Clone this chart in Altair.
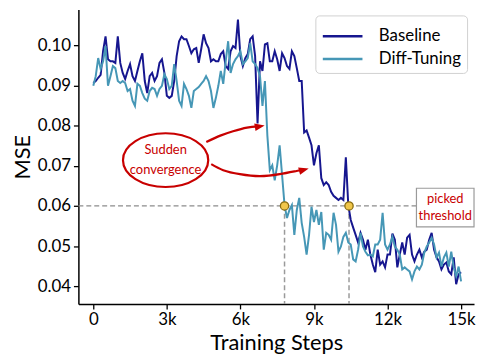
import altair as alt
import pandas as pd

# ---------------- data ----------------
steps = list(range(0, 15001, 100))

baseline = [
    0.0906, 0.0911, 0.0919, 0.0926, 0.0985, 0.1022, 0.0965, 0.0960, 0.0960, 0.0956,
    0.1022, 0.0956, 0.0931, 0.0916, 0.0936, 0.0953, 0.0923, 0.0911, 0.0936, 0.0960,
    0.0980, 0.0911, 0.0881, 0.0923, 0.0931, 0.0911, 0.0923, 0.0956, 0.0965, 0.0931,
    0.0874, 0.0869, 0.0874, 0.0911, 0.0973, 0.1010, 0.1022, 0.1015, 0.1015, 0.0998,
    0.0980, 0.0990, 0.0993, 0.0956, 0.0990, 0.1027, 0.1005, 0.0993, 0.0960, 0.0965,
    0.0960, 0.0960, 0.0978, 0.0985, 0.0948, 0.0941, 0.0985, 0.0998, 0.0993, 0.1064,
    0.0973, 0.0948, 0.0968, 0.0978, 0.1015, 0.1022, 0.0973, 0.0805, 0.0960, 0.0936,
    0.1002, 0.1005, 0.0960, 0.0960, 0.0985, 0.0965, 0.0936, 0.0980, 0.0968, 0.0948,
    0.0941, 0.0985, 0.0973, 0.0943, 0.0911, 0.0911, 0.0783, 0.0788, 0.0770, 0.0751,
    0.0701, 0.0731, 0.0751, 0.0669, 0.0652, 0.0659, 0.0652, 0.0635, 0.0625, 0.0620,
    0.0615, 0.0620, 0.0615, 0.0721, 0.0602, 0.0565, 0.0546, 0.0528, 0.0509, 0.0533,
    0.0516, 0.0491, 0.0516, 0.0479, 0.0454, 0.0435, 0.0491, 0.0454, 0.0462, 0.0447,
    0.0479, 0.0479, 0.0531, 0.0516, 0.0447, 0.0479, 0.0509, 0.0479, 0.0521, 0.0528,
    0.0479, 0.0462, 0.0479, 0.0491, 0.0472, 0.0486, 0.0491, 0.0516, 0.0533, 0.0491,
    0.0472, 0.0462, 0.0442, 0.0454, 0.0459, 0.0437, 0.0430, 0.0472, 0.0405, 0.0430,
    0.0435,
]

diff_tuning = [
    0.0899, 0.0923, 0.0968, 0.0941, 0.0960, 0.0998, 0.0899, 0.0923, 0.0948, 0.0943,
    0.0911, 0.0906, 0.0911, 0.0906, 0.0886, 0.0891, 0.0862, 0.0849, 0.0904, 0.0899,
    0.0881, 0.0867, 0.0862, 0.0886, 0.0894, 0.0891, 0.0874, 0.0891, 0.0899, 0.0928,
    0.0916, 0.0891, 0.0899, 0.0953, 0.0911, 0.0862, 0.0849, 0.0904, 0.0891, 0.0874,
    0.0844, 0.0886, 0.0891, 0.0896, 0.0904, 0.0911, 0.0923, 0.0911, 0.0886, 0.0844,
    0.0869, 0.0899, 0.0936, 0.0904, 0.0960, 0.1010, 0.0931, 0.0953, 0.0965, 0.0973,
    0.0985, 0.0953, 0.0960, 0.0968, 0.1005, 0.0960, 0.0953, 0.0943, 0.0923, 0.0849,
    0.0911, 0.0775, 0.0689, 0.0701, 0.0664, 0.0701, 0.0751, 0.0677, 0.0602, 0.0570,
    0.0590, 0.0602, 0.0528, 0.0590, 0.0620, 0.0558, 0.0523, 0.0479, 0.0528, 0.0598,
    0.0560, 0.0590, 0.0553, 0.0585, 0.0491, 0.0533, 0.0528, 0.0516, 0.0583, 0.0553,
    0.0486, 0.0499, 0.0523, 0.0533, 0.0509, 0.0504, 0.0467, 0.0462, 0.0491, 0.0533,
    0.0499, 0.0486, 0.0477, 0.0479, 0.0474, 0.0504, 0.0504, 0.0516, 0.0583, 0.0504,
    0.0491, 0.0504, 0.0523, 0.0499, 0.0491, 0.0479, 0.0442, 0.0447, 0.0442, 0.0437,
    0.0417, 0.0437, 0.0449, 0.0442, 0.0454, 0.0484, 0.0499, 0.0509, 0.0521, 0.0504,
    0.0472, 0.0484, 0.0449, 0.0472, 0.0484, 0.0449, 0.0486, 0.0447, 0.0425, 0.0449,
    0.0412,
]

series_names = ["Baseline", "Diff-Tuning"]
series_colors = ["#16168f", "#4697b6"]

x_ticks = [0, 3000, 6000, 9000, 12000, 15000]
y_ticks = [0.04, 0.05, 0.06, 0.07, 0.08, 0.09, 0.10]
x_domain = [-607, 15528]
y_domain = [0.0356, 0.1089]

threshold = 0.06
threshold_end = 13180
picked_steps = [7800, 10430]

# annotation anchors (data coordinates)
ellipse_at = [2950, 0.0714]
ellipse_lines = ["Sudden", "convergence"]
ellipse_line_y = [0.0738, 0.0689]

arrow_upper_x = [4610, 5180, 5700, 6270, 6720]
arrow_upper_y = [0.0759, 0.0775, 0.0786, 0.0795, 0.0798]
arrow_lower_x = [4810, 5300, 5980, 6790, 7600, 8290, 8560]
arrow_lower_y = [0.0704, 0.0689, 0.0679, 0.0674, 0.0679, 0.0687, 0.0690]
arrow_heads_x = [6790, 8590]
arrow_heads_y = [0.0798, 0.0690]
arrow_heads_angle = [350, 345]

box_x = [13180, 15528]
box_y = [0.0548, 0.0644]
box_lines = ["picked", "threshold"]
box_text_x = 14355
box_line_y = [0.0617, 0.0575]

RED = "#c80000"
FONT = "Lato"

# ---------------- chart ----------------
xs = alt.Scale(domain=x_domain, nice=False, zero=False)
ys = alt.Scale(domain=y_domain, nice=False, zero=False)
x_axis = alt.Axis(values=x_ticks, labelExpr="datum.value == 0 ? '0' : (datum.value / 1000) + 'k'",
                  grid=False, title="Training Steps")
y_axis = alt.Axis(values=y_ticks, format=".2f", grid=False, title="MSE")


def X(f):
    return alt.X(f, type="quantitative", scale=xs, axis=x_axis)


def Y(f):
    return alt.Y(f, type="quantitative", scale=ys, axis=y_axis)


rows = []
for name, vals in zip(series_names, [baseline, diff_tuning]):
    for s, v in zip(steps, vals):
        rows.append({"step": s, "mse": v, "series": name})
df = pd.DataFrame(rows)

lines = alt.Chart(df).mark_line(strokeWidth=2, clip=True).encode(
    x=X("step"), y=Y("mse"),
    color=alt.Color("series:N", scale=alt.Scale(domain=series_names, range=series_colors),
                    legend=alt.Legend(orient="none", legendX=239, legendY=6, title=None,
                                      symbolType="M -1 0 L 1.963 0", symbolSize=729,
                                      symbolStrokeWidth=2.5,
                                      labelFontSize=17, labelFont=FONT, labelColor="black",
                                      fillColor="white", strokeColor="#d0d0d0", cornerRadius=4,
                                      padding=6, rowPadding=0, labelOffset=28)),
)

thr_df = pd.DataFrame({"x0": [x_domain[0]], "x1": [threshold_end], "y": [threshold]})
thr_rule = alt.Chart(thr_df).mark_rule(color="#8c8c8c", strokeDash=[5, 3], strokeWidth=1.3).encode(
    x=X("x0"), x2="x1", y=Y("y"))

vdf = pd.DataFrame({"x": picked_steps, "y0": [threshold] * 2, "y1": [y_domain[0]] * 2})
v_rules = alt.Chart(vdf).mark_rule(color="#9a9a9a", strokeDash=[5, 3], strokeWidth=1.5).encode(
    x=X("x"), y=Y("y0"), y2="y1")

pts = alt.Chart(pd.DataFrame({"x": picked_steps, "y": [threshold] * 2})).mark_point(
    shape="circle", filled=True, size=70, fill="#f0c64a", stroke="#8a6d10", strokeWidth=1.3, opacity=1
).encode(x=X("x"), y=Y("y"))

ell = alt.Chart(pd.DataFrame({"x": [ellipse_at[0]], "y": [ellipse_at[1]]})).mark_point(
    shape="M -1 0 A 1 0.63 0 1 1 1 0 A 1 0.63 0 1 1 -1 0 Z", size=7396, filled=False,
    stroke=RED, strokeWidth=2.2, opacity=1, fill="white"
).encode(x=X("x"), y=Y("y"))

ell_txt = alt.Chart(pd.DataFrame({"x": [ellipse_at[0]] * 2, "y": ellipse_line_y, "t": ellipse_lines})).mark_text(
    font=FONT, fontSize=13, color=RED, baseline="middle", align="center"
).encode(x=X("x"), y=Y("y"), text="t:N")

arr_rows = []
for i, (xx, yy) in enumerate(zip(arrow_upper_x, arrow_upper_y)):
    arr_rows.append({"a": "u", "i": i, "x": xx, "y": yy})
for i, (xx, yy) in enumerate(zip(arrow_lower_x, arrow_lower_y)):
    arr_rows.append({"a": "l", "i": i, "x": xx, "y": yy})
arrows = alt.Chart(pd.DataFrame(arr_rows)).mark_line(color=RED, strokeWidth=2.2, interpolate="natural").encode(
    x=X("x"), y=Y("y"), detail="a:N", order="i:Q")

heads = alt.Chart(pd.DataFrame({"x": arrow_heads_x, "y": arrow_heads_y, "ang": arrow_heads_angle})).mark_point(
    shape="M 1 0 L -1 -0.75 L -1 0.75 Z", size=100, filled=True, color=RED, opacity=1
).encode(x=X("x"), y=Y("y"), angle=alt.Angle("ang:Q", scale=None))

box = alt.Chart(pd.DataFrame({"x0": [box_x[0]], "x1": [box_x[1]], "y0": [box_y[0]], "y1": [box_y[1]]})).mark_rect(
    fill="white", stroke="#9a9a9a", strokeWidth=1.2
).encode(x=X("x0"), x2="x1", y=Y("y0"), y2="y1")

box_txt = alt.Chart(pd.DataFrame({"x": [box_text_x] * 2, "y": box_line_y, "t": box_lines})).mark_text(
    font=FONT, fontSize=13, color=RED, baseline="middle", align="center"
).encode(x=X("x"), y=Y("y"), text="t:N")

chart = alt.layer(
    thr_rule, v_rules, lines, arrows, heads, ell, ell_txt, pts, box, box_txt
).properties(
    width=399, height=297, padding={"left": 3, "top": 0, "right": 0, "bottom": 0}
).configure_view(strokeWidth=0).configure_axis(
    labelFont=FONT, titleFont=FONT, labelFontSize=17, titleFontSize=22, titleFontWeight="normal",
    labelColor="black", titleColor="black", domainColor="black", tickColor="black",
    domainWidth=1.5, tickWidth=1.3, tickSize=5, labelPadding=3
).configure_axisY(titlePadding=3).configure_axisX(titlePadding=5)

chart.save("out.html", embed_options={"renderer": "svg", "actions": False})
